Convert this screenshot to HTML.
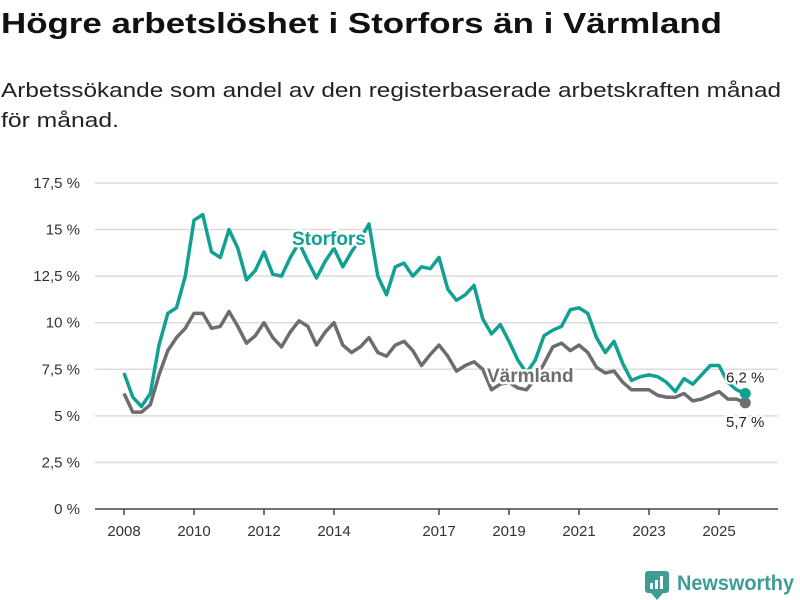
<!DOCTYPE html>
<html><head><meta charset="utf-8">
<style>
body{margin:0;background:#fff;}
svg{display:block;font-family:"Liberation Sans","DejaVu Sans",sans-serif;}
</style></head>
<body>
<svg id="chart" width="800" height="600" viewBox="0 0 800 600" xmlns="http://www.w3.org/2000/svg">
<text x="1" y="33" font-size="29" font-weight="bold" fill="#111" textLength="721" lengthAdjust="spacingAndGlyphs">Högre arbetslöshet i Storfors än i Värmland</text>
<text x="1" y="97" font-size="20" fill="#222" textLength="780" lengthAdjust="spacingAndGlyphs">Arbetssökande som andel av den registerbaserade arbetskraften månad</text>
<text x="1" y="127" font-size="20" fill="#222" textLength="118" lengthAdjust="spacingAndGlyphs">för månad.</text>
<g id="grid"></g>
<g id="yticks"></g>
<g id="xticks"></g>
<g id="series"></g>
<g>
<rect x="645" y="571" width="24" height="22" rx="3" fill="#3d9d95"/>
<path d="M651 593 L657 600 L663 593Z" fill="#3d9d95"/>
<rect x="650" y="583" width="3" height="6" fill="#fff"/><rect x="655" y="580" width="3" height="9" fill="#fff"/><rect x="660" y="576" width="3" height="13" fill="#fff"/>
<text x="677" y="590" font-size="21" font-weight="bold" fill="#3d9d95" textLength="117" lengthAdjust="spacingAndGlyphs">Newsworthy</text>
</g>
</svg>
<script>
const yTicks=[0,2.5,5,7.5,10,12.5,15,17.5];
const yTickLabels=["0 %","2,5 %","5 %","7,5 %","10 %","12,5 %","15 %","17,5 %"];
const xTicks=[2008,2010,2012,2014,2017,2019,2021,2023,2025];
const startYear=2008;
const stepYears=0.25;
const storfors=[7.3,6.0,5.5,6.2,8.8,10.5,10.8,12.5,15.5,15.8,13.8,13.5,15.0,14.0,12.3,12.8,13.8,12.6,12.5,13.5,14.3,13.3,12.4,13.3,14.0,13.0,13.8,14.5,15.3,12.5,11.5,13.0,13.2,12.5,13.0,12.9,13.5,11.8,11.2,11.5,12.0,10.2,9.4,9.9,9.0,8.0,7.3,8.0,9.3,9.6,9.8,10.7,10.8,10.5,9.2,8.4,9.0,7.8,6.9,7.1,7.2,7.1,6.8,6.3,7.0,6.7,7.2,7.7,7.7,6.8,6.4,6.2];
const varmland=[6.2,5.2,5.2,5.6,7.2,8.5,9.2,9.7,10.5,10.5,9.7,9.8,10.6,9.8,8.9,9.3,10.0,9.2,8.7,9.5,10.1,9.8,8.8,9.5,10.0,8.8,8.4,8.7,9.2,8.4,8.2,8.8,9.0,8.5,7.7,8.3,8.8,8.2,7.4,7.7,7.9,7.5,6.4,6.7,6.8,6.5,6.4,7.0,7.8,8.7,8.9,8.5,8.8,8.4,7.6,7.3,7.4,6.8,6.4,6.4,6.4,6.1,6.0,6.0,6.2,5.8,5.9,6.1,6.3,5.9,5.9,5.7];
const NS="http://www.w3.org/2000/svg";
const xS=y=>124+(y-2008)*35;
const yS=v=>509-v*18.63;
function mk(tag,attrs,parent){const e=document.createElementNS(NS,tag);for(const k in attrs)e.setAttribute(k,attrs[k]);parent.appendChild(e);return e;}
const grid=document.getElementById('grid'),yt=document.getElementById('yticks'),xt=document.getElementById('xticks'),ser=document.getElementById('series');
yTicks.forEach((v,i)=>{
 if(v>0){const l=mk('line',{x1:95,x2:778,y1:yS(v),y2:yS(v),stroke:'#dcdcdc','stroke-width':1.5},grid);
 
 }
 const t=mk('text',{x:80,y:yS(v)+5,'font-size':15,'text-anchor':'end',fill:'#333'},yt);
 
 
 t.textContent=yTickLabels[i];
});
const ax=mk('line',{x1:95,x2:778,y1:509,y2:509,stroke:'#444','stroke-width':1.5},xt);


xTicks.forEach(y=>{
 const tk=mk('line',{x1:xS(y),x2:xS(y),y1:509,y2:515,stroke:'#444','stroke-width':1.5},xt);
 
 
 const t=mk('text',{x:xS(y),y:536,'font-size':15,'text-anchor':'middle',fill:'#333'},xt);
 
 
 t.textContent=y;
});
function line(data,color,name){
 const d=data.map((v,i)=>(i?'L':'M')+xS(startYear+i*stepYears).toFixed(1)+' '+yS(v).toFixed(1)).join(' ');
 const p=mk('path',{d:d,fill:'none',stroke:color,'stroke-width':3.5,'stroke-linejoin':'round'},ser);
 
 
 const n=data.length-1;
 const c=mk('circle',{cx:xS(startYear+n*stepYears),cy:yS(data[n]),r:5.5,fill:color},ser);
 
 
}
line(varmland,'#6d6c71','varmland');
line(storfors,'#12a092','storfors');
function label(txt,x,y,color,size,bold,name){
 const t=mk('text',{x:x,y:y,'font-size':size,'font-weight':bold?'bold':'normal',fill:color,stroke:'#fff','stroke-width':bold?5:4,'paint-order':'stroke','stroke-linejoin':'round'},ser);
 
 
 t.textContent=txt;
}
label('Storfors',292,245,'#12a092',19,true,'storfors-label');
label('Värmland',487,382,'#6d6c71',19,true,'varmland-label');
const nS=storfors.length-1,nV=varmland.length-1;
label(storfors[nS].toFixed(1).replace('.',',')+' %',726,yS(storfors[nS])-11,'#222',15,false,'storfors-end-value');
label(varmland[nV].toFixed(1).replace('.',',')+' %',726,yS(varmland[nV])+24,'#222',15,false,'varmland-end-value');
</script>
</body></html>
